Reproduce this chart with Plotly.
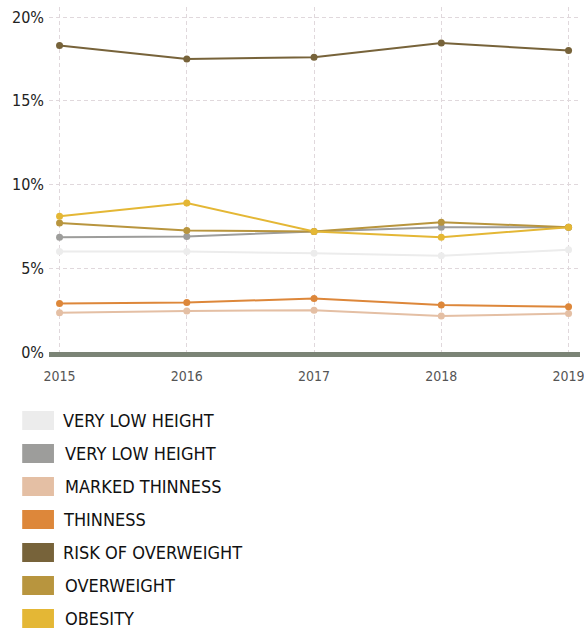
import plotly.graph_objects as go

years = [2015, 2016, 2017, 2018, 2019]
series_names = [
    "VERY LOW HEIGHT",
    "VERY LOW HEIGHT",
    "MARKED THINNESS",
    "THINNESS",
    "RISK OF OVERWEIGHT",
    "OVERWEIGHT",
    "OBESITY",
]
very_low_height_light = [6.0, 6.0, 5.9, 5.75, 6.1]
very_low_height_gray = [6.85, 6.9, 7.2, 7.45, 7.45]
marked_thinness = [2.35, 2.45, 2.5, 2.15, 2.3]
thinness = [2.9, 2.95, 3.2, 2.8, 2.7]
risk_of_overweight = [18.3, 17.5, 17.6, 18.45, 18.0]
overweight = [7.7, 7.25, 7.2, 7.75, 7.45]
obesity = [8.1, 8.9, 7.2, 6.85, 7.45]
series_values = [very_low_height_light, very_low_height_gray, marked_thinness,
                 thinness, risk_of_overweight, overweight, obesity]
colors = ["#ececec", "#9d9d9b", "#e4bfa4", "#dd873a", "#77633a", "#b8953e", "#e4b735"]
y_ticks = [0, 5, 10, 15, 20]
y_tick_labels = ["0%", "5%", "10%", "15%", "20%"]

FONT = "DejaVu Sans Condensed, Liberation Sans Narrow, Arial Narrow, sans-serif"
W, H = 584, 632
ML, MR, MT, MB = 49, 0, 7, 280

fig = go.Figure()
for name, vals, col in zip(series_names, series_values, colors):
    fig.add_trace(go.Scatter(
        x=years, y=vals, name=name, mode="lines+markers",
        line=dict(color=col, width=2),
        marker=dict(color=col, size=7),
        showlegend=False, hoverinfo="x+y",
    ))

# manual legend (styling, in pixel space converted to paper coords)
pw = W - ML - MR
ph = H - MT - MB


def px2paper_x(px):
    return (px - ML) / pw


def px2paper_y(py):
    return (H - MB - py) / ph


row_tops = [411, 444, 477, 510, 543, 576, 609]
text_x = [61, 63, 63, 61, 61, 63, 63]
for i, (name, col) in enumerate(zip(series_names, colors)):
    top = row_tops[i]
    fig.add_shape(type="rect", xref="paper", yref="paper",
                  x0=px2paper_x(22), x1=px2paper_x(54),
                  y0=px2paper_y(top + 19), y1=px2paper_y(top),
                  fillcolor=col, line=dict(width=0))
    fig.add_annotation(xref="paper", yref="paper",
                       x=px2paper_x(text_x[i]), y=px2paper_y(top + 9.5),
                       text=name, showarrow=False, xanchor="left", yanchor="middle",
                       font=dict(family=FONT, size=18, color="#111111"))

fig.update_layout(
    width=W, height=H,
    margin=dict(l=ML, r=MR, t=MT, b=MB),
    paper_bgcolor="white", plot_bgcolor="white",
    font=dict(family=FONT),
    showlegend=False,
)
fig.update_xaxes(
    range=[2014.917, 2019.09],
    tickvals=years, ticktext=[str(y) for y in years],
    tickfont=dict(family=FONT, size=14, color="#555555"),
    ticklabelstandoff=7, ticklabeloverflow="allow",
    showgrid=True, gridcolor="#e0d8dc", gridwidth=1, griddash="4px,3px",
    showline=True, linecolor="#7b8476", linewidth=5,
    zeroline=False, ticks="",
)
fig.update_yaxes(
    range=[0, 20.6],
    tickvals=y_ticks, ticktext=y_tick_labels,
    tickfont=dict(family=FONT, size=16, color="#222222"),
    ticklabelstandoff=4,
    showgrid=True, gridcolor="#e0d8dc", gridwidth=1, griddash="4px,3px",
    showline=False, zeroline=False, ticks="",
)

fig.write_html(
    "out.html", config={"displayModeBar": False},
    post_script=("document.body.style.margin='0px';"
                 "document.body.style.overflow='hidden';"
                 "document.documentElement.style.overflow='hidden';"),
)
